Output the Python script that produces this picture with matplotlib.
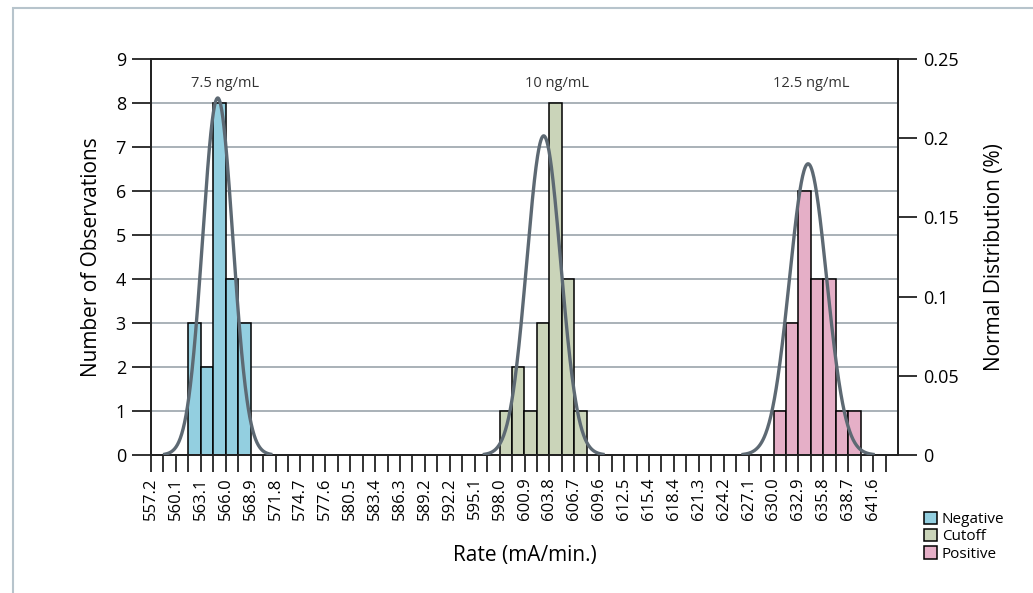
import numpy as np
import matplotlib

matplotlib.use('Agg')
import matplotlib.pyplot as plt
from matplotlib.patches import Patch, Rectangle

plt.rcParams['font.family'] = ['Open Sans', 'DejaVu Sans']

# x axis: histogram bins
bin_start = 557.2
bin_width = (641.6 - 557.2) / 58
n_bins = 60
x_labels = ['557.2', '560.1', '563.1', '566.0', '568.9', '571.8', '574.7', '577.6',
            '580.5', '583.4', '586.3', '589.2', '592.2', '595.1', '598.0', '600.9',
            '603.8', '606.7', '609.6', '612.5', '615.4', '618.4', '621.3', '624.2',
            '627.1', '630.0', '632.9', '635.8', '638.7', '641.6']

# observations per bin
neg_start = 561.57
neg_counts = [3, 2, 8, 4, 3]
cut_start = 597.94
cut_counts = [1, 2, 1, 3, 8, 4, 1]
pos_start = 629.96
pos_counts = [1, 3, 6, 4, 4, 1, 1]

# normal distribution fits (mean, sd)
neg_fit = (565.0, 1.77)
cut_fit = (603.1, 1.98)
pos_fit = (634.0, 2.17)

group_labels = ['7.5 ng/mL', '10 ng/mL', '12.5 ng/mL']
group_label_x = [565.85, 604.65, 634.4]

names = ['Negative', 'Cutoff', 'Positive']
colors = ['#93cfe0', '#cad4b9', '#e5afc7']
curve_color = '#5d6973'

fig = plt.figure(figsize=(10.33, 5.93), dpi=100)
ax = fig.add_axes([151 / 1033, 1 - 455 / 593, (898 - 151) / 1033, (455 - 59) / 593])
ax2 = ax.twinx()

# light frame around the figure
fig.add_artist(Rectangle((13 / 1033, -0.05), 1.1, 1 - 8 / 593 + 0.05, transform=fig.transFigure,
                         fill=False, edgecolor='#b7c4cc', lw=1.5))

for y in range(1, 9):
    ax.axhline(y, color='#a3abb2', lw=1.3, zorder=0)

for start, counts, c in zip([neg_start, cut_start, pos_start],
                            [neg_counts, cut_counts, pos_counts], colors):
    lefts = start + bin_width * np.arange(len(counts))
    ax.bar(lefts, counts, width=bin_width, align='edge', color=c,
           edgecolor='black', linewidth=1.1, zorder=2)

for mu, sd in [neg_fit, cut_fit, pos_fit]:
    xs = np.linspace(mu - 3.5 * sd, mu + 3.5 * sd, 300)
    ys = np.exp(-0.5 * ((xs - mu) / sd) ** 2) / (sd * np.sqrt(2 * np.pi))
    ax2.plot(xs, ys, color=curve_color, lw=2.4, zorder=3)

for txt, xpos in zip(group_labels, group_label_x):
    ax.text(xpos, 8.45, txt, ha='center', va='center', fontsize=10.5, color='#333333')

x_end = bin_start + n_bins * bin_width
ax.set_xlim(bin_start, x_end)
ax.set_ylim(0, 9)
ax2.set_ylim(0, 0.25)

major = bin_start + 2 * bin_width * np.arange(len(x_labels))
minor = bin_start + bin_width * np.arange(1, n_bins + 1, 2)
ax.set_xticks(major)
ax.set_xticklabels(x_labels, rotation=90, fontsize=12)
ax.set_xticks(minor, minor=True)
ax.tick_params(axis='x', which='both', length=12, width=1.3, color='#222222', pad=4)

ax.set_yticks(range(0, 10))
ax.tick_params(axis='y', length=14, width=1.3, color='#222222', labelsize=13, pad=4)

ax2.set_yticks([0, 0.05, 0.1, 0.15, 0.2, 0.25])
ax2.set_yticklabels(['0', '0.05', '0.1', '0.15', '0.2', '0.25'])
ax2.tick_params(axis='y', length=14, width=1.3, color='#222222', labelsize=13, pad=4)

for a in (ax, ax2):
    for s in a.spines.values():
        s.set_color('#222222')
        s.set_linewidth(1.3)

ax.set_xlabel('Rate (mA/min.)', fontsize=15, labelpad=18)
ax.set_ylabel('Number of Observations', fontsize=15, labelpad=10)
ax2.set_ylabel('Normal Distribution (%)', fontsize=15, labelpad=18)

handles = [Patch(facecolor=c, edgecolor='black', linewidth=1.1) for c in colors]
fig.legend(handles, names, loc='upper left', bbox_to_anchor=(916 / 1033, 1 - 504 / 593),
           frameon=False, fontsize=11, handlelength=0.9, handleheight=0.9,
           handletextpad=0.3, labelspacing=0.1, borderpad=0)

fig.savefig('out.png', dpi=100)
